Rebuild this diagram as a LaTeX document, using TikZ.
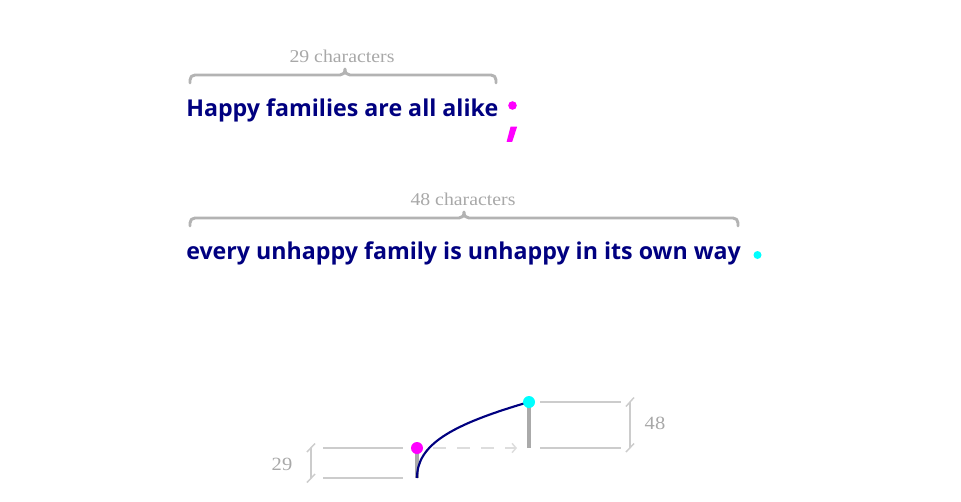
\documentclass[tikz,border=0pt]{standalone}
\usepackage{fontspec}
\usetikzlibrary{arrows.meta}
\newfontfamily\mainsans{Open Sans}
\newfontfamily\lblfont[FakeStretch=1.1]{Liberation Serif}
\definecolor{navyc}{HTML}{000080}
\definecolor{magc}{HTML}{FF00FF}
\definecolor{cyanc}{HTML}{00FFFF}
\definecolor{bracegray}{HTML}{B3B3B3}
\definecolor{lblgray}{HTML}{A8A8A8}
\definecolor{barg}{HTML}{AAAAAA}
\definecolor{thin}{HTML}{CCCCCC}
\definecolor{dashg}{HTML}{DDDDDD}
\tikzset{
  sentence/.style={anchor=base west, inner sep=0pt, text=navyc, font=\mainsans\bfseries\fontsize{17.4pt}{20pt}\selectfont},
  bracelabel/.style={anchor=base, inner sep=0pt, text=lblgray, font=\lblfont\fontsize{13.5pt}{15pt}\selectfont},
  numlabel/.style={anchor=base, inner sep=0pt, text=lblgray, font=\lblfont\fontsize{14pt}{16pt}\selectfont},
  bracepath/.style={draw=bracegray, line width=2.2pt, line cap=round, line join=round},
  guide/.style={draw=thin, line width=1.1pt},
  bar/.style={draw=barg, line width=3pt},
  tick/.style={draw=thin, line width=1.1pt},
  dotc/.style={circle, inner sep=0pt, minimum size=#1},
}
\begin{document}
\begin{tikzpicture}[x=0.75pt,y=-0.75pt]
\useasboundingbox (0,0) rectangle (961,501);

% sentences
\node[sentence] (s1) at (186,116) {Happy families are all alike};
\node[sentence] (s2) at (186,259) {every unhappy family is unhappy in its own way};

% brace labels
\node[bracelabel] (l1) at (342,62) {29 characters};
\node[bracelabel] (l2) at (463,205) {48 characters};

% braces
\draw[bracepath] (190,83) -- (190,80) .. controls (190,77) and (192,75) .. (195,75) -- (340,75)
  .. controls (343,75) and (345,73) .. (345,69) .. controls (345,73) and (347,75) .. (350,75)
  -- (491,75) .. controls (494,75) and (496,77) .. (496,80) -- (496,83);
\draw[bracepath] (190,226) -- (190,223) .. controls (190,220) and (192,218) .. (195,218) -- (459,218)
  .. controls (462,218) and (464,216) .. (464,212) .. controls (464,216) and (466,218) .. (469,218)
  -- (733,218) .. controls (736,218) and (738,220) .. (738,223) -- (738,226);

% semicolon
\fill[magc] (512.5,105.5) circle (4.3);
\fill[magc] (510.6,126.5) -- (517.2,126.5) -- (512.2,141.8) -- (506.6,141.8) -- cycle;
% period
\node[dotc=6pt, fill=cyanc] (p2) at (757.5,255) {};

% bottom chart
\coordinate (a0) at (417,478);
\coordinate (a1) at (417,448);
\coordinate (b0) at (529,448);
\coordinate (b1) at (529,402);

\draw[guide] (323,448) -- (403,448);
\draw[guide] (323,478) -- (403,478);
\draw[guide] (540,402) -- (621,402);
\draw[guide] (540,448) -- (621,448);

% left bracket
\draw[tick] (311,448) -- (311,478);
\draw[tick] (307,452) -- (315,443.5);
\draw[tick] (307,482.5) -- (315,474);
\node[numlabel] (n29) at (282,470) {29};
% right bracket
\draw[tick] (630,402) -- (630,448);
\draw[tick] (626,406.5) -- (634,397.5);
\draw[tick] (626,452) -- (634,443.5);
\node[numlabel] (n48) at (655,429) {48};

\draw[dashg, line width=1.1pt, dash pattern=on 10pt off 8pt, -{Straight Barb[length=3pt,width=7pt]}] (433,448) -- (517,448);

\draw[bar] (a0) -- (a1);
\draw[bar] (b0) -- (b1);
\draw[navyc, line width=1.6pt] (a0) .. controls (417,445) and (450,425) .. (b1);
\node[dotc=9pt, fill=magc] (d1) at (a1) {};
\node[dotc=9pt, fill=cyanc] (d2) at (b1) {};
\end{tikzpicture}
\end{document}
